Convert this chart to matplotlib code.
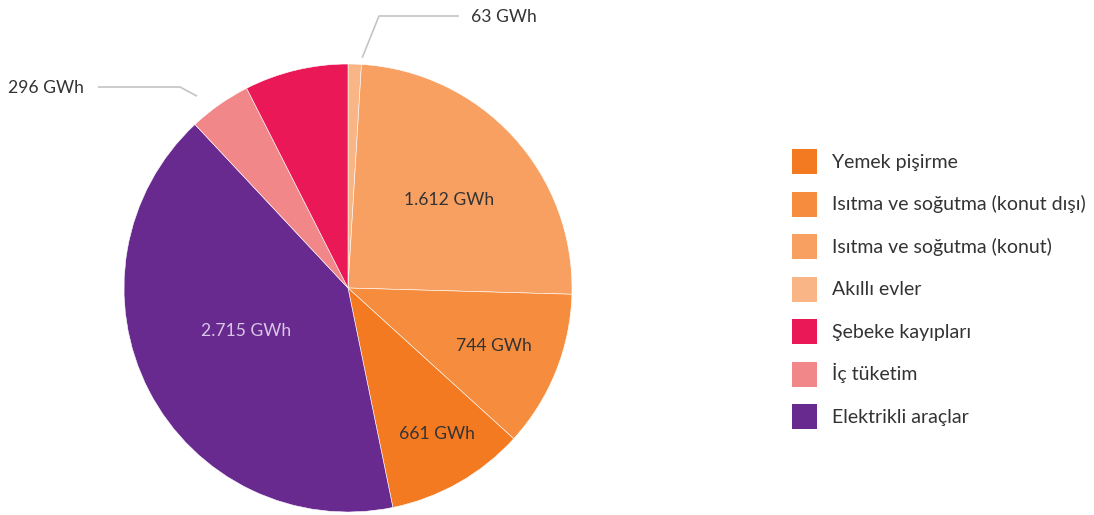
import numpy as np
import matplotlib
matplotlib.use("Agg")
import matplotlib.pyplot as plt
from matplotlib.patches import Patch

plt.rcParams['font.family'] = ['Lato', 'DejaVu Sans']

# Data (slice order clockwise from 12 o'clock)
categories = ["Akıllı evler", "Isıtma ve soğutma (konut)", "Isıtma ve soğutma (konut dışı)",
              "Yemek pişirme", "Elektrikli araçlar", "İç tüketim", "Şebeke kayıpları"]
values = [63, 1612, 744, 661, 2715, 296, 492]
value_labels = ["63 GWh", "1.612 GWh", "744 GWh", "661 GWh", "2.715 GWh", "296 GWh", ""]
colors = ["#FAB586", "#F7A062", "#F68D3E", "#F47A22", "#692A8F", "#F28789", "#EB1857"]

legend_order = ["Yemek pişirme", "Isıtma ve soğutma (konut dışı)", "Isıtma ve soğutma (konut)",
                "Akıllı evler", "Şebeke kayıpları", "İç tüketim", "Elektrikli araçlar"]

W, H = 1094, 515
fig = plt.figure(figsize=(W / 100, H / 100), dpi=100)
ax = fig.add_axes([0, 0, 1, 1])

cx, cy, R = 348, H - 288, 224
wedges, _ = ax.pie(values, colors=colors, startangle=90, counterclock=False,
                   center=(cx, cy), radius=R, frame=True,
                   wedgeprops=dict(edgecolor='white', linewidth=0.4))
ax.set_xlim(0, W)
ax.set_ylim(0, H)
ax.set_aspect('equal')
ax.axis('off')

txt_color = "#333333"
fs = 12.6
# inside labels: (radial fraction, angle offset in deg, color)
inside = {1: (0.60, -1.0, txt_color), 2: (0.70, 0.5, txt_color),
          3: (0.76, 2.0, txt_color), 4: (0.49, -5.0, "#D8C6E6")}
for i, (rf, da, col) in inside.items():
    w = wedges[i]
    ang = np.deg2rad((w.theta1 + w.theta2) / 2 + da)
    ax.text(cx + rf * R * np.cos(ang), cy + rf * R * np.sin(ang) - 1, value_labels[i],
            ha='center', va='center', fontsize=fs, color=col)

# outside labels with leader lines
lc = "#C4C4C4"
def outside(i, r0, ang_off, elbow, end, textx, ha):
    w = wedges[i]
    ang = np.deg2rad((w.theta1 + w.theta2) / 2 + ang_off)
    x0, y0 = cx + r0 * R * np.cos(ang), cy + r0 * R * np.sin(ang)
    ax.plot([x0, elbow[0], end[0]], [y0, elbow[1], end[1]], color=lc, lw=1.2,
            solid_capstyle='butt')
    ax.text(textx, end[1] - 1, value_labels[i], ha=ha, va='center', fontsize=fs,
            color=txt_color)

outside(0, 1.03, -1.8, (379, H - 16), (459, H - 16), 471, 'left')
outside(5, 1.09, 3.2, (180, H - 87), (98, H - 87), 84, 'right')

lfs = 14.0
lpx = lfs * 100 / 72
hh = (25 / lpx - 0.245) / 0.65
handles = [Patch(facecolor=colors[categories.index(c)], edgecolor='none') for c in legend_order]
leg = fig.legend(handles, legend_order, loc='upper left', bbox_to_anchor=(792 / W, 1 - 149 / H),
                 frameon=False, fontsize=lfs, handlelength=25 / lpx, handleheight=hh,
                 handletextpad=15 / lpx, labelspacing=17.5 / lpx, borderaxespad=0, borderpad=0)
for t in leg.get_texts():
    t.set_color(txt_color)

fig.savefig("out.png", dpi=100, facecolor='white')
